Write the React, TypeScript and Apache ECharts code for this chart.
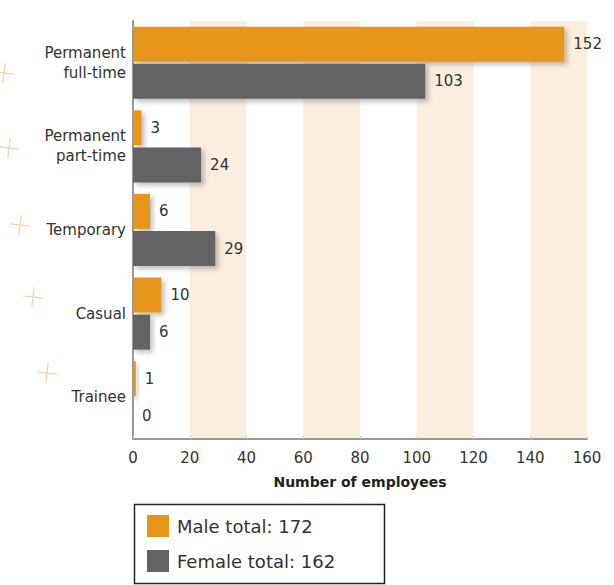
import React, { useEffect, useRef } from "react";
import * as echarts from "echarts";

const categories = ["Permanent\nfull-time", "Permanent\npart-time", "Temporary", "Casual", "Trainee"];
const maleValues = [152, 3, 6, 10, 1];
const femaleValues = [103, 24, 29, 6, 0];
const xTicks = { min: 0, max: 160, interval: 20 };
const crosses = [
  [4, 73],
  [9, 148],
  [20, 225],
  [33, 297],
  [47, 373],
];

const FONT = "DejaVu Sans";

export default function App() {
  const ref = useRef<HTMLDivElement>(null);
  useEffect(() => {
    document.body.style.margin = "0";
    const chart = echarts.init(ref.current!, null, { renderer: "svg" });
    const maleTotal = maleValues.reduce((a, b) => a + b, 0);
    const femaleTotal = femaleValues.reduce((a, b) => a + b, 0);
    const totals: Record<string, number> = { Male: maleTotal, Female: femaleTotal };
    const shadow = {
      shadowBlur: 5,
      shadowOffsetX: 3,
      shadowOffsetY: 3,
      shadowColor: "rgba(0,0,0,0.25)",
    };
    const label = {
      show: true,
      position: "right" as const,
      distance: 9,
      color: "#333",
      fontSize: 15,
      fontFamily: FONT,
    };
    const graphics: any[] = [];
    crosses.forEach(([cx, cy]) => {
      graphics.push({
        type: "group",
        x: cx,
        y: cy,
        rotation: -0.12,
        silent: true,
        children: [
          { type: "line", shape: { x1: -10, y1: 0, x2: 10, y2: 0 }, style: { stroke: "#F7D2A6", lineWidth: 1.2 } },
          { type: "line", shape: { x1: 0, y1: -10, x2: 0, y2: 10 }, style: { stroke: "#F7D2A6", lineWidth: 1.2 } },
        ],
      });
    });
    graphics.push({
      type: "rect",
      left: 132,
      top: 502,
      shape: { width: 250, height: 79 },
      style: { fill: "none", stroke: "#222", lineWidth: 1.5 },
      silent: true,
    });
    chart.setOption({
      animation: false,
      backgroundColor: "#fff",
      grid: { left: 133, right: 27, top: 21, height: 418 },
      graphic: graphics,
      legend: {
        orient: "vertical",
        left: 147,
        top: 515,
        itemWidth: 22,
        itemHeight: 22,
        itemGap: 13,
        icon: "rect",
        padding: 0,
        data: ["Male", "Female"],
        formatter: (name: string) => `${name} total: ${totals[name]}`,
        textStyle: { fontSize: 18, color: "#333", fontFamily: FONT, padding: [0, 0, 0, 3] },
      },
      xAxis: {
        type: "value",
        min: xTicks.min,
        max: xTicks.max,
        interval: xTicks.interval,
        name: "Number of employees",
        nameLocation: "middle",
        nameGap: 36,
        nameTextStyle: { fontSize: 14, fontWeight: "bold", color: "#222", fontFamily: FONT },
        axisLine: { show: true, lineStyle: { color: "#999", width: 2 } },
        axisTick: { show: true, inside: true, length: 3, lineStyle: { color: "#ccc" } },
        axisLabel: { fontSize: 15, color: "#333", margin: 11, fontFamily: FONT },
        splitLine: { show: false },
        splitArea: { show: true, areaStyle: { color: ["rgba(0,0,0,0)", "#FCEEDF"] } },
      },
      yAxis: {
        type: "category",
        inverse: true,
        data: categories,
        axisLine: { show: true, lineStyle: { color: "#999", width: 2 } },
        axisTick: { show: false },
        axisLabel: { fontSize: 15, color: "#333", margin: 7, fontFamily: FONT, lineHeight: 20, align: "right" },
      },
      series: [
        {
          name: "Male",
          type: "bar",
          data: maleValues,
          barWidth: 35,
          barGap: "6%",
          itemStyle: { color: "#E8951A", ...shadow },
          label,
        },
        {
          name: "Female",
          type: "bar",
          data: femaleValues,
          barWidth: 35,
          itemStyle: { color: "#636466", ...shadow },
          label,
        },
      ],
    });
    return () => chart.dispose();
  }, []);
  return <div ref={ref} style={{ width: 614, height: 585 }} />;
}
